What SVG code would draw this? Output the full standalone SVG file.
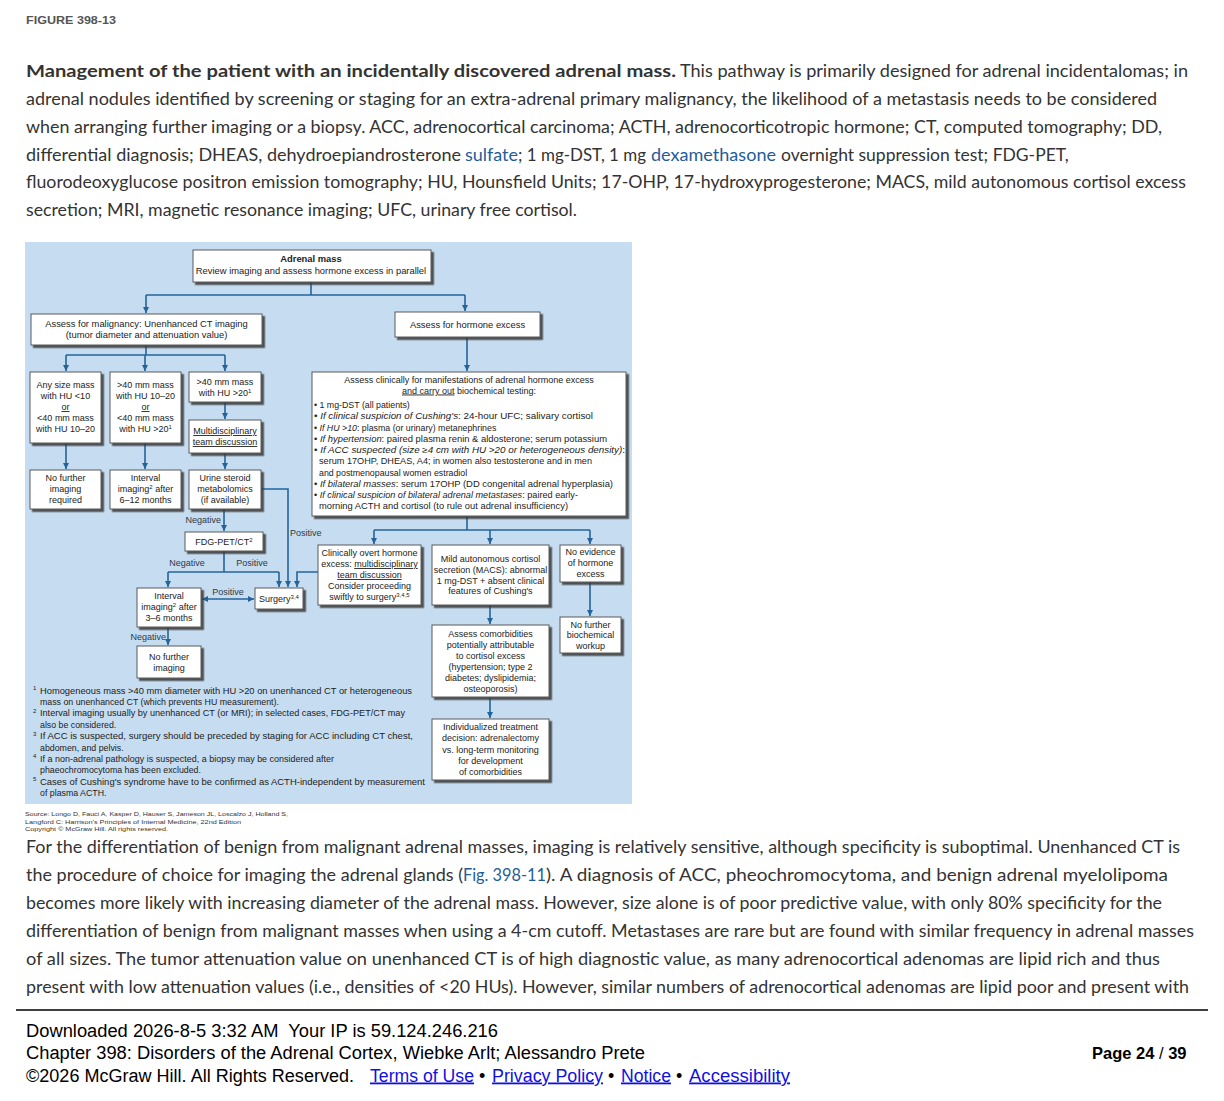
<svg xmlns="http://www.w3.org/2000/svg" width="1224" height="1101" viewBox="0 0 1224 1101">
<defs>
<filter id="sh" x="-10%" y="-10%" width="125%" height="140%">
<feDropShadow dx="2.5" dy="2.5" stdDeviation="0.6" flood-color="#3a3a3a" flood-opacity="0.85"/>
</filter>
<marker id="ar" viewBox="0 0 10 10" refX="10" refY="5" markerWidth="6" markerHeight="6" markerUnits="userSpaceOnUse" orient="auto-start-reverse">
<path d="M0,0 L10,5 L0,10 z" fill="#24649a"/>
</marker>
<style>
.bx{fill:#fff;stroke:#5a5a5a;stroke-width:1;filter:url(#sh)}
.t{font-family:"Liberation Sans",Arial,sans-serif;font-size:9px;fill:#222;text-anchor:middle}
.tl{font-family:"Liberation Sans",Arial,sans-serif;font-size:8.8px;fill:#222}
.fn{font-family:"Liberation Sans",Arial,sans-serif;font-size:6px;fill:#222}
.big{font-size:9.4px}
.lb{font-family:"Liberation Sans",Arial,sans-serif;font-size:9px;fill:#2e3a48}
.c{fill:none;stroke:#24649a;stroke-width:1.6}
.a{marker-end:url(#ar)}
.p{font-family:Lato,"Open Sans",sans-serif;font-size:17.5px;fill:#333}
.lk{fill:#1f5d99}
.ft{font-family:"Liberation Sans",Arial,sans-serif;font-size:18px;fill:#000}
.pg{font-family:"Liberation Sans",Arial,sans-serif;font-size:16.5px;font-weight:bold;fill:#000}
.fl{fill:#1010e0;text-decoration:underline}
.u{text-decoration:underline}
.i{font-style:italic}
.src{font-family:"Liberation Sans",Arial,sans-serif;font-size:6px;fill:#333}
</style>
</defs>
<rect x="0" y="0" width="1224" height="1101" fill="#fff"/>

<text x="26" y="24" font-family="'Liberation Sans',Arial,sans-serif" font-size="10" font-weight="bold" fill="#555" textLength="90" lengthAdjust="spacingAndGlyphs">FIGURE 398-13</text>

<g id="caption">
<text class="p" x="26" y="76.5" font-weight="bold" fill="#222" textLength="650" lengthAdjust="spacingAndGlyphs">Management of the patient with an incidentally discovered adrenal mass.</text>
<text class="p" x="680" y="76.5" textLength="508" lengthAdjust="spacingAndGlyphs">This pathway is primarily designed for adrenal incidentalomas; in</text>
<text class="p" x="26" y="104.5" textLength="1131" lengthAdjust="spacingAndGlyphs">adrenal nodules identified by screening or staging for an extra-adrenal primary malignancy, the likelihood of a metastasis needs to be considered</text>
<text class="p" x="26" y="132.5" textLength="1136" lengthAdjust="spacingAndGlyphs">when arranging further imaging or a biopsy. ACC, adrenocortical carcinoma; ACTH, adrenocorticotropic hormone; CT, computed tomography; DD,</text>
<text class="p" x="26" y="160.5" textLength="435" lengthAdjust="spacingAndGlyphs">differential diagnosis; DHEAS, dehydroepiandrosterone</text>
<text class="p lk" x="465" y="160.5" textLength="53" lengthAdjust="spacingAndGlyphs">sulfate</text>
<text class="p" x="518" y="160.5" textLength="128" lengthAdjust="spacingAndGlyphs">; 1 mg-DST, 1 mg</text>
<text class="p lk" x="651" y="160.5" textLength="125" lengthAdjust="spacingAndGlyphs">dexamethasone</text>
<text class="p" x="781" y="160.5">overnight suppression test; FDG-PET,</text>
<text class="p" x="26" y="187.5" textLength="1160" lengthAdjust="spacingAndGlyphs">fluorodeoxyglucose positron emission tomography; HU, Hounsfield Units; 17-OHP, 17-hydroxyprogesterone; MACS, mild autonomous cortisol excess</text>
<text class="p" x="26" y="215.5" textLength="551" lengthAdjust="spacingAndGlyphs">secretion; MRI, magnetic resonance imaging; UFC, urinary free cortisol.</text>
</g>

<rect x="25" y="242" width="607" height="562" fill="#c6dcf0"/>

<g id="connectors">
<path class="c" d="M311,282 V295 M146,295 H465"/>
<path class="c a" d="M146,295 V313"/>
<path class="c a" d="M465,295 V311"/>
<path class="c" d="M146,345 V355 M66,355 H225"/>
<path class="c a" d="M66,355 V371"/>
<path class="c a" d="M145,355 V371"/>
<path class="c a" d="M225,355 V371"/>
<path class="c a" d="M467,337 V371"/>
<path class="c a" d="M66,443 V469"/>
<path class="c a" d="M145,443 V469"/>
<path class="c a" d="M225,402 V419"/>
<path class="c a" d="M225,453 V469"/>
<path class="c a" d="M261,489 H288 V587"/>
<path class="c a" d="M224,509 V531"/>
<path class="c" d="M224,551 V572 M168,572 H279"/>
<path class="c a" d="M168,572 V587"/>
<path class="c a" d="M279,572 V587"/>
<path class="c a" d="M318,572 H297 V587"/>
<path class="c a" d="M202,599 H254" marker-start="url(#ar)"/>
<path class="c a" d="M168,627 V645"/>
<path class="c" d="M467,516 V530 M374,530 H590"/>
<path class="c a" d="M374,530 V544"/>
<path class="c a" d="M490,530 V544"/>
<path class="c a" d="M590,530 V544"/>
<path class="c a" d="M590,582 V616"/>
<path class="c a" d="M490,605 V624"/>
<path class="c a" d="M490,697 V718"/>
<text class="lb" x="221" y="523" text-anchor="end">Negative</text>
<text class="lb" x="290" y="536">Positive</text>
<text class="lb" x="187" y="566" text-anchor="middle">Negative</text>
<text class="lb" x="252" y="566" text-anchor="middle">Positive</text>
<text class="lb" x="228" y="595" text-anchor="middle">Positive</text>
<text class="lb" x="166" y="640" text-anchor="end">Negative</text>
</g>

<g id="n-adrenal">
<rect class="bx" x="193" y="250" width="238" height="32"/>
<text class="t big" x="311" y="262" font-weight="bold">Adrenal mass</text>
<text class="t big" x="311" y="273.5">Review imaging and assess hormone excess in parallel</text>
</g>
<g id="n-malig">
<rect class="bx" x="31" y="314" width="231" height="31"/>
<text class="t big" x="146.5" y="327">Assess for malignancy: Unenhanced CT imaging</text>
<text class="t big" x="146.5" y="338">(tumor diameter and attenuation value)</text>
</g>
<g id="n-hormone">
<rect class="bx" x="395" y="312" width="145" height="25"/>
<text class="t big" x="467.5" y="327.5">Assess for hormone excess</text>
</g>
<g id="n-a">
<rect class="bx" x="30" y="372" width="71" height="71"/>
<text class="t" x="65.5" y="388">Any size mass</text>
<text class="t" x="65.5" y="399">with HU &lt;10</text>
<text class="t u" x="65.5" y="410">or</text>
<text class="t" x="65.5" y="421">&lt;40 mm mass</text>
<text class="t" x="65.5" y="432">with HU 10–20</text>
</g>
<g id="n-b">
<rect class="bx" x="110" y="372" width="71" height="71"/>
<text class="t" x="145.5" y="388">&gt;40 mm mass</text>
<text class="t" x="145.5" y="399">with HU 10–20</text>
<text class="t u" x="145.5" y="410">or</text>
<text class="t" x="145.5" y="421">&lt;40 mm mass</text>
<text class="t" x="145.5" y="432">with HU &gt;20<tspan font-size="6" dy="-3.5">1</tspan></text>
</g>
<g id="n-c">
<rect class="bx" x="189" y="372" width="72" height="30"/>
<text class="t" x="225" y="385">&gt;40 mm mass</text>
<text class="t" x="225" y="396">with HU &gt;20<tspan font-size="6" dy="-3.5">1</tspan></text>
</g>
<g id="n-mdt">
<rect class="bx" x="189" y="420" width="72" height="33"/>
<text class="t u" x="225" y="434">Multidisciplinary</text>
<text class="t u" x="225" y="445">team discussion</text>
</g>
<g id="n-d">
<rect class="bx" x="30" y="470" width="71" height="39"/>
<text class="t" x="65.5" y="481">No further</text>
<text class="t" x="65.5" y="492">imaging</text>
<text class="t" x="65.5" y="503">required</text>
</g>
<g id="n-e">
<rect class="bx" x="110" y="470" width="71" height="39"/>
<text class="t" x="145.5" y="481">Interval</text>
<text class="t" x="145.5" y="492">imaging<tspan font-size="6" dy="-3.5">2</tspan><tspan dy="3.5"> after</tspan></text>
<text class="t" x="145.5" y="503">6–12 months</text>
</g>
<g id="n-f">
<rect class="bx" x="189" y="470" width="72" height="39"/>
<text class="t" x="225" y="481">Urine steroid</text>
<text class="t" x="225" y="492">metabolomics</text>
<text class="t" x="225" y="503">(if available)</text>
</g>
<g id="n-fdg">
<rect class="bx" x="185" y="532" width="78" height="19"/>
<text class="t" x="224" y="545">FDG-PET/CT<tspan font-size="6" dy="-3.5">2</tspan></text>
</g>
<g id="n-surgery">
<rect class="bx" x="255" y="588" width="48" height="21"/>
<text class="t" x="279" y="602">Surgery<tspan font-size="6" dy="-3.5">3,4</tspan></text>
</g>
<g id="n-interval2">
<rect class="bx" x="137" y="588" width="64" height="39"/>
<text class="t" x="169" y="599">Interval</text>
<text class="t" x="169" y="610">imaging<tspan font-size="6" dy="-3.5">2</tspan><tspan dy="3.5"> after</tspan></text>
<text class="t" x="169" y="621">3–6 months</text>
</g>
<g id="n-nofurther2">
<rect class="bx" x="137" y="646" width="64" height="32"/>
<text class="t" x="169" y="660">No further</text>
<text class="t" x="169" y="671">imaging</text>
</g>
<g id="n-assessclin">
<rect class="bx" x="312" y="372" width="314" height="144"/>
<text class="t" x="469" y="382.5">Assess clinically for manifestations of adrenal hormone excess</text>
<text class="t" x="469" y="393.5"><tspan class="u">and carry out</tspan> biochemical testing:</text>
<text class="tl" x="314" y="408.2">• 1 mg-DST (all patients)</text>
<text class="tl" x="314" y="419.4" textLength="279" lengthAdjust="spacingAndGlyphs">• <tspan class="i">If clinical suspicion of Cushing's</tspan>: 24-hour UFC; salivary cortisol</text>
<text class="tl" x="314" y="430.6">• <tspan class="i">If HU &gt;10</tspan>: plasma (or urinary) metanephrines</text>
<text class="tl" x="314" y="441.9" textLength="293" lengthAdjust="spacingAndGlyphs">• <tspan class="i">If hypertension</tspan>: paired plasma renin &amp; aldosterone; serum potassium</text>
<text class="tl" x="314" y="453.1" textLength="311" lengthAdjust="spacingAndGlyphs">• <tspan class="i">If ACC suspected (size ≥4 cm with HU &gt;20 or heterogeneous density)</tspan>:</text>
<text class="tl" x="319" y="464.3" textLength="273" lengthAdjust="spacingAndGlyphs">serum 17OHP, DHEAS, A4; in women also testosterone and in men</text>
<text class="tl" x="319" y="475.5">and postmenopausal women estradiol</text>
<text class="tl" x="314" y="486.7" textLength="299" lengthAdjust="spacingAndGlyphs">• <tspan class="i">If bilateral masses</tspan>: serum 17OHP (DD congenital adrenal hyperplasia)</text>
<text class="tl" x="314" y="498" textLength="264" lengthAdjust="spacingAndGlyphs">• <tspan class="i">If clinical suspicion of bilateral adrenal metastases</tspan>: paired early-</text>
<text class="tl" x="319" y="509.2" textLength="249" lengthAdjust="spacingAndGlyphs">morning ACTH and cortisol (to rule out adrenal insufficiency)</text>
</g>
<g id="n-overt">
<rect class="bx" x="318" y="545" width="103" height="60"/>
<text class="t" x="369.5" y="556">Clinically overt hormone</text>
<text class="t" x="369.5" y="567">excess: <tspan class="u">multidisciplinary</tspan></text>
<text class="t u" x="369.5" y="578">team discussion</text>
<text class="t" x="369.5" y="589">Consider proceeding</text>
<text class="t" x="369.5" y="600">swiftly to surgery<tspan font-size="6" dy="-3.5">3,4,5</tspan></text>
</g>
<g id="n-macs">
<rect class="bx" x="432" y="545" width="117" height="60"/>
<text class="t" x="490.5" y="562">Mild autonomous cortisol</text>
<text class="t" x="490.5" y="573">secretion (MACS): abnormal</text>
<text class="t" x="490.5" y="583.5">1 mg-DST + absent clinical</text>
<text class="t" x="490.5" y="594">features of Cushing's</text>
</g>
<g id="n-noevidence">
<rect class="bx" x="560" y="545" width="61" height="37"/>
<text class="t" x="590.5" y="555">No evidence</text>
<text class="t" x="590.5" y="566">of hormone</text>
<text class="t" x="590.5" y="577">excess</text>
</g>
<g id="n-nobio">
<rect class="bx" x="560" y="617" width="61" height="36"/>
<text class="t" x="590.5" y="627.5">No further</text>
<text class="t" x="590.5" y="638">biochemical</text>
<text class="t" x="590.5" y="649">workup</text>
</g>
<g id="n-comorb">
<rect class="bx" x="432" y="625" width="117" height="72"/>
<text class="t" x="490.5" y="637">Assess comorbidities</text>
<text class="t" x="490.5" y="648">potentially attributable</text>
<text class="t" x="490.5" y="659">to cortisol excess</text>
<text class="t" x="490.5" y="670">(hypertension; type 2</text>
<text class="t" x="490.5" y="681">diabetes; dyslipidemia;</text>
<text class="t" x="490.5" y="692">osteoporosis)</text>
</g>
<g id="n-indiv">
<rect class="bx" x="432" y="719" width="117" height="61"/>
<text class="t" x="490.5" y="730">Individualized treatment</text>
<text class="t" x="490.5" y="741">decision: adrenalectomy</text>
<text class="t" x="490.5" y="752.5">vs. long-term monitoring</text>
<text class="t" x="490.5" y="764">for development</text>
<text class="t" x="490.5" y="775">of comorbidities</text>
</g>

<g id="footnotes">
<text class="fn" x="33" y="690">1</text>
<text class="tl" x="40" y="693.5" textLength="372" lengthAdjust="spacingAndGlyphs">Homogeneous mass &gt;40 mm diameter with HU &gt;20 on unenhanced CT or heterogeneous</text>
<text class="tl" x="40" y="704.9">mass on unenhanced CT (which prevents HU measurement).</text>
<text class="fn" x="33" y="712.8">2</text>
<text class="tl" x="40" y="716.3" textLength="365" lengthAdjust="spacingAndGlyphs">Interval imaging usually by unenhanced CT (or MRI); in selected cases, FDG-PET/CT may</text>
<text class="tl" x="40" y="727.7">also be considered.</text>
<text class="fn" x="33" y="735.6">3</text>
<text class="tl" x="40" y="739.1" textLength="373" lengthAdjust="spacingAndGlyphs">If ACC is suspected, surgery should be preceded by staging for ACC including CT chest,</text>
<text class="tl" x="40" y="750.5">abdomen, and pelvis.</text>
<text class="fn" x="33" y="758.4">4</text>
<text class="tl" x="40" y="761.9" textLength="294" lengthAdjust="spacingAndGlyphs">If a non-adrenal pathology is suspected, a biopsy may be considered after</text>
<text class="tl" x="40" y="773.3">phaeochromocytoma has been excluded.</text>
<text class="fn" x="33" y="781.2">5</text>
<text class="tl" x="40" y="784.7" textLength="385" lengthAdjust="spacingAndGlyphs">Cases of Cushing's syndrome have to be confirmed as ACTH-independent by measurement</text>
<text class="tl" x="40" y="796.1">of plasma ACTH.</text>
</g>

<g id="source">
<text class="src" x="25" y="816" textLength="263" lengthAdjust="spacingAndGlyphs">Source: Longo D, Fauci A, Kasper D, Hauser S, Jameson JL, Loscalzo J, Holland S,</text>
<text class="src" x="25" y="823.5" textLength="216" lengthAdjust="spacingAndGlyphs">Langford C: Harrison's Principles of Internal Medicine, 22nd Edition</text>
<text class="src" x="25" y="831" textLength="143" lengthAdjust="spacingAndGlyphs">Copyright © McGraw Hill. All rights reserved.</text>
</g>

<g id="body">
<text class="p" x="26" y="852.5" textLength="1154" lengthAdjust="spacingAndGlyphs">For the differentiation of benign from malignant adrenal masses, imaging is relatively sensitive, although specificity is suboptimal. Unenhanced CT is</text>
<text class="p" x="26" y="880.5" textLength="437" lengthAdjust="spacingAndGlyphs">the procedure of choice for imaging the adrenal glands (</text>
<text class="p lk" x="463" y="880.5" textLength="83" lengthAdjust="spacingAndGlyphs">Fig. 398-11</text>
<text class="p" x="546" y="880.5" textLength="622" lengthAdjust="spacingAndGlyphs">). A diagnosis of ACC, pheochromocytoma, and benign adrenal myelolipoma</text>
<text class="p" x="26" y="908.5" textLength="1136" lengthAdjust="spacingAndGlyphs">becomes more likely with increasing diameter of the adrenal mass. However, size alone is of poor predictive value, with only 80% specificity for the</text>
<text class="p" x="26" y="936.5" textLength="1168" lengthAdjust="spacingAndGlyphs">differentiation of benign from malignant masses when using a 4-cm cutoff. Metastases are rare but are found with similar frequency in adrenal masses</text>
<text class="p" x="26" y="964.5" textLength="1134" lengthAdjust="spacingAndGlyphs">of all sizes. The tumor attenuation value on unenhanced CT is of high diagnostic value, as many adrenocortical adenomas are lipid rich and thus</text>
<text class="p" x="26" y="992.5" textLength="1163" lengthAdjust="spacingAndGlyphs">present with low attenuation values (i.e., densities of &lt;20 HUs). However, similar numbers of adrenocortical adenomas are lipid poor and present with</text>
</g>

<g id="footer">
<line x1="16" y1="1010" x2="1208" y2="1010" stroke="#000" stroke-width="1.5"/>
<text class="ft" x="26" y="1036.5" textLength="472" lengthAdjust="spacingAndGlyphs">Downloaded 2026-8-5 3:32 AM&#160; Your IP is 59.124.246.216</text>
<text class="ft" x="26" y="1058.5" textLength="619" lengthAdjust="spacingAndGlyphs">Chapter 398: Disorders of the Adrenal Cortex, Wiebke Arlt; Alessandro Prete</text>
<text class="ft" x="26" y="1081.5" textLength="328" lengthAdjust="spacingAndGlyphs">©2026 McGraw Hill. All Rights Reserved.</text>
<text class="ft fl" x="370" y="1081.5" textLength="104" lengthAdjust="spacingAndGlyphs">Terms of Use</text>
<text class="ft" x="479" y="1081.5">•</text>
<text class="ft fl" x="492" y="1081.5" textLength="111" lengthAdjust="spacingAndGlyphs">Privacy Policy</text>
<text class="ft" x="608" y="1081.5">•</text>
<text class="ft fl" x="621" y="1081.5" textLength="50" lengthAdjust="spacingAndGlyphs">Notice</text>
<text class="ft" x="676" y="1081.5">•</text>
<text class="ft fl" x="689" y="1081.5" textLength="101" lengthAdjust="spacingAndGlyphs">Accessibility</text>
<text class="pg" x="1092" y="1058.5">Page 24 <tspan font-weight="normal">/</tspan> 39</text>
</g>
</svg>
